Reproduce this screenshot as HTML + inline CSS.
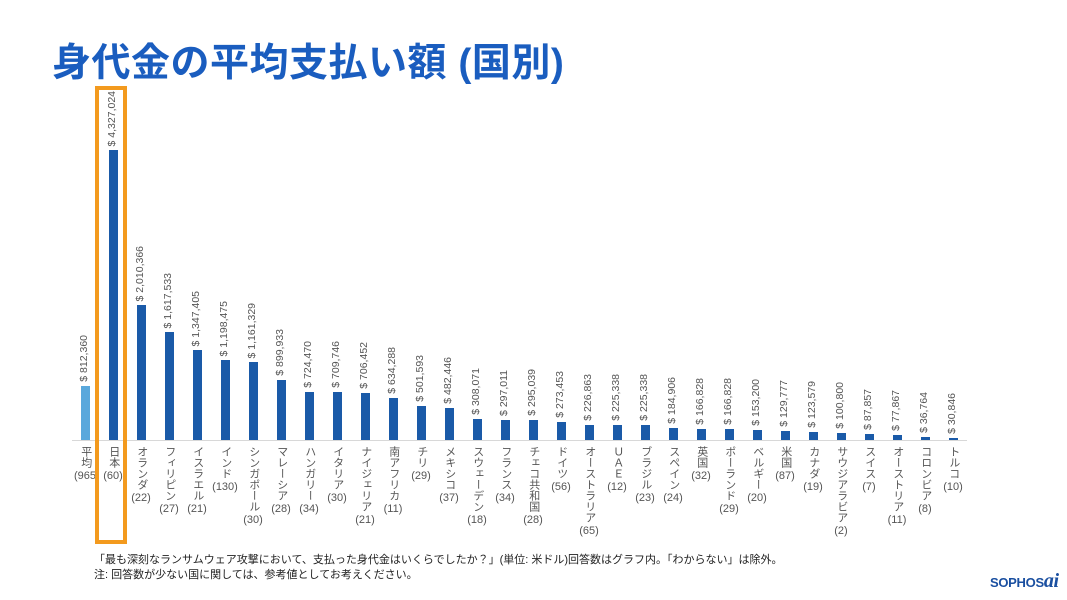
<!DOCTYPE html>
<html><head><meta charset="utf-8"><style>
body{margin:0;width:1067px;height:600px;background:#fff;position:relative;overflow:hidden;font-family:"Liberation Sans","Noto Sans CJK JP",sans-serif}
.t{position:absolute;left:52px;top:32px;font-size:39px;font-weight:bold;color:#1a5dbf;font-family:"Liberation Sans","Noto Sans CJK JP",sans-serif;letter-spacing:0.5px}
.axis{position:absolute;left:72px;top:440px;width:895px;height:1px;background:#d8d8d8}
.c{position:absolute;width:28px}
.b{position:absolute;bottom:160px;width:9px;left:9.5px;background:#1a5aa8}
.v{position:absolute;writing-mode:vertical-rl;transform:rotate(180deg);font-size:10.5px;color:#555;left:6px;white-space:nowrap;line-height:14px}
.n{position:absolute;top:446px;left:0;width:28px;display:flex;flex-direction:column;align-items:center;font-size:11px;color:#555;line-height:11.5px}
.n .j{writing-mode:vertical-rl;text-orientation:upright;letter-spacing:0px}
.n .k{margin-top:3px;font-size:11px;white-space:nowrap}
.box{position:absolute;left:95px;top:86px;width:24px;height:450px;border:4px solid #f39a1e}
.f{position:absolute;left:94px;font-size:11px;color:#222}
</style></head><body>
<div class="t">身代金の平均支払い額 (国別)</div>
<div class="axis"></div>

<div class="c" style="left:71px;top:0;height:600px"><div class="b" style="height:54px;background:#5aa8dc"></div><div class="v" style="bottom:218px">$ 812,360</div><div class="n"><span class="j">平均</span><span class="k">(965</span></div></div>
<div class="c" style="left:99px;top:0;height:600px"><div class="b" style="height:290px"></div><div class="v" style="bottom:454px">$ 4,327,024</div><div class="n"><span class="j">日本</span><span class="k">(60)</span></div></div>
<div class="c" style="left:127px;top:0;height:600px"><div class="b" style="height:135px"></div><div class="v" style="bottom:299px">$ 2,010,366</div><div class="n"><span class="j">オランダ</span><span class="k">(22)</span></div></div>
<div class="c" style="left:155px;top:0;height:600px"><div class="b" style="height:108px"></div><div class="v" style="bottom:272px">$ 1,617,533</div><div class="n"><span class="j">フィリピン</span><span class="k">(27)</span></div></div>
<div class="c" style="left:183px;top:0;height:600px"><div class="b" style="height:90px"></div><div class="v" style="bottom:254px">$ 1,347,405</div><div class="n"><span class="j">イスラエル</span><span class="k">(21)</span></div></div>
<div class="c" style="left:211px;top:0;height:600px"><div class="b" style="height:80px"></div><div class="v" style="bottom:244px">$ 1,198,475</div><div class="n"><span class="j">インド</span><span class="k">(130)</span></div></div>
<div class="c" style="left:239px;top:0;height:600px"><div class="b" style="height:78px"></div><div class="v" style="bottom:242px">$ 1,161,329</div><div class="n"><span class="j">シンガポール</span><span class="k">(30)</span></div></div>
<div class="c" style="left:267px;top:0;height:600px"><div class="b" style="height:60px"></div><div class="v" style="bottom:224px">$ 899,933</div><div class="n"><span class="j">マレーシア</span><span class="k">(28)</span></div></div>
<div class="c" style="left:295px;top:0;height:600px"><div class="b" style="height:48px"></div><div class="v" style="bottom:212px">$ 724,470</div><div class="n"><span class="j">ハンガリー</span><span class="k">(34)</span></div></div>
<div class="c" style="left:323px;top:0;height:600px"><div class="b" style="height:48px"></div><div class="v" style="bottom:212px">$ 709,746</div><div class="n"><span class="j">イタリア</span><span class="k">(30)</span></div></div>
<div class="c" style="left:351px;top:0;height:600px"><div class="b" style="height:47px"></div><div class="v" style="bottom:211px">$ 706,452</div><div class="n"><span class="j">ナイジェリア</span><span class="k">(21)</span></div></div>
<div class="c" style="left:379px;top:0;height:600px"><div class="b" style="height:42px"></div><div class="v" style="bottom:206px">$ 634,288</div><div class="n"><span class="j">南アフリカ</span><span class="k">(11)</span></div></div>
<div class="c" style="left:407px;top:0;height:600px"><div class="b" style="height:34px"></div><div class="v" style="bottom:198px">$ 501,593</div><div class="n"><span class="j">チリ</span><span class="k">(29)</span></div></div>
<div class="c" style="left:435px;top:0;height:600px"><div class="b" style="height:32px"></div><div class="v" style="bottom:196px">$ 482,446</div><div class="n"><span class="j">メキシコ</span><span class="k">(37)</span></div></div>
<div class="c" style="left:463px;top:0;height:600px"><div class="b" style="height:21px"></div><div class="v" style="bottom:185px">$ 308,071</div><div class="n"><span class="j">スウェーデン</span><span class="k">(18)</span></div></div>
<div class="c" style="left:491px;top:0;height:600px"><div class="b" style="height:20px"></div><div class="v" style="bottom:184px">$ 297,011</div><div class="n"><span class="j">フランス</span><span class="k">(34)</span></div></div>
<div class="c" style="left:519px;top:0;height:600px"><div class="b" style="height:20px"></div><div class="v" style="bottom:184px">$ 295,039</div><div class="n"><span class="j">チェコ共和国</span><span class="k">(28)</span></div></div>
<div class="c" style="left:547px;top:0;height:600px"><div class="b" style="height:18px"></div><div class="v" style="bottom:182px">$ 273,453</div><div class="n"><span class="j">ドイツ</span><span class="k">(56)</span></div></div>
<div class="c" style="left:575px;top:0;height:600px"><div class="b" style="height:15px"></div><div class="v" style="bottom:179px">$ 226,863</div><div class="n"><span class="j">オーストラリア</span><span class="k">(65)</span></div></div>
<div class="c" style="left:603px;top:0;height:600px"><div class="b" style="height:15px"></div><div class="v" style="bottom:179px">$ 225,338</div><div class="n"><span class="j">ＵＡＥ</span><span class="k">(12)</span></div></div>
<div class="c" style="left:631px;top:0;height:600px"><div class="b" style="height:15px"></div><div class="v" style="bottom:179px">$ 225,338</div><div class="n"><span class="j">ブラジル</span><span class="k">(23)</span></div></div>
<div class="c" style="left:659px;top:0;height:600px"><div class="b" style="height:12px"></div><div class="v" style="bottom:176px">$ 184,906</div><div class="n"><span class="j">スペイン</span><span class="k">(24)</span></div></div>
<div class="c" style="left:687px;top:0;height:600px"><div class="b" style="height:11px"></div><div class="v" style="bottom:175px">$ 166,828</div><div class="n"><span class="j">英国</span><span class="k">(32)</span></div></div>
<div class="c" style="left:715px;top:0;height:600px"><div class="b" style="height:11px"></div><div class="v" style="bottom:175px">$ 166,828</div><div class="n"><span class="j">ポーランド</span><span class="k">(29)</span></div></div>
<div class="c" style="left:743px;top:0;height:600px"><div class="b" style="height:10px"></div><div class="v" style="bottom:174px">$ 153,200</div><div class="n"><span class="j">ベルギー</span><span class="k">(20)</span></div></div>
<div class="c" style="left:771px;top:0;height:600px"><div class="b" style="height:9px"></div><div class="v" style="bottom:173px">$ 129,777</div><div class="n"><span class="j">米国</span><span class="k">(87)</span></div></div>
<div class="c" style="left:799px;top:0;height:600px"><div class="b" style="height:8px"></div><div class="v" style="bottom:172px">$ 123,579</div><div class="n"><span class="j">カナダ</span><span class="k">(19)</span></div></div>
<div class="c" style="left:827px;top:0;height:600px"><div class="b" style="height:7px"></div><div class="v" style="bottom:171px">$ 100,800</div><div class="n"><span class="j">サウジアラビア</span><span class="k">(2)</span></div></div>
<div class="c" style="left:855px;top:0;height:600px"><div class="b" style="height:6px"></div><div class="v" style="bottom:170px">$ 87,857</div><div class="n"><span class="j">スイス</span><span class="k">(7)</span></div></div>
<div class="c" style="left:883px;top:0;height:600px"><div class="b" style="height:5px"></div><div class="v" style="bottom:169px">$ 77,867</div><div class="n"><span class="j">オーストリア</span><span class="k">(11)</span></div></div>
<div class="c" style="left:911px;top:0;height:600px"><div class="b" style="height:3px"></div><div class="v" style="bottom:167px">$ 36,764</div><div class="n"><span class="j">コロンビア</span><span class="k">(8)</span></div></div>
<div class="c" style="left:939px;top:0;height:600px"><div class="b" style="height:2px"></div><div class="v" style="bottom:166px">$ 30,846</div><div class="n"><span class="j">トルコ</span><span class="k">(10)</span></div></div>

<div class="box"></div>
<div class="f" style="top:551px">「最も深刻なランサムウェア攻撃において、支払った身代金はいくらでしたか？」(単位: 米ドル)回答数はグラフ内。「わからない」は除外。</div>
<div class="f" style="top:566px">注: 回答数が少ない国に関しては、参考値としてお考えください。</div>
<div style="position:absolute;left:990px;top:570px;font-size:13px;font-weight:bold;color:#1a4fa0;letter-spacing:-0.3px">SOPHOS<span style="font-style:italic;font-size:20px;color:#1a4fa0;font-family:'Liberation Serif',serif">ai</span></div>
</body></html>
